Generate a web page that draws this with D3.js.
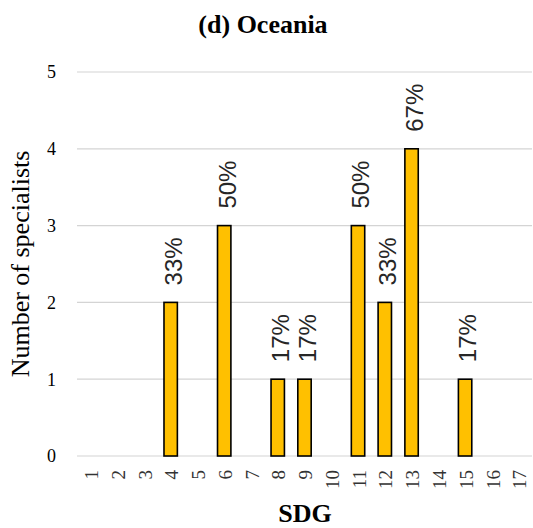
<!DOCTYPE html>
<html>
<head>
<meta charset="utf-8">
<script src="https://cdn.jsdelivr.net/npm/d3@7"></script>
<style>
html,body{margin:0;padding:0;background:#fff;}
svg{display:block;}
</style>
</head>
<body>
<svg id="chart" width="533" height="528"></svg>
<script>
const categories = ["1","2","3","4","5","6","7","8","9","10","11","12","13","14","15","16","17"];
const counts = [0,0,0,2,0,3,0,1,1,0,3,2,4,0,1,0,0];
const percentLabels = ["","","","33%","","50%","","17%","17%","","50%","33%","67%","","17%","",""];
const yTicks = [0,1,2,3,4,5];
const titleText = "(d) Oceania";
const xTitle = "SDG";
const yTitle = "Number of specialists";

const svg = d3.select("#chart");
const serif = "'Liberation Serif','Times New Roman',serif";
const sans = "'Liberation Sans',Arial,sans-serif";

const x = d3.scaleBand().domain(categories).range([77, 532]).padding(0);
const y = d3.scaleLinear().domain([0, 5]).range([456, 72]);

// gridlines
svg.append("g").selectAll("line").data(yTicks).join("line")
  .attr("x1", 77).attr("x2", 532)
  .attr("y1", d => y(d)).attr("y2", d => y(d))
  .attr("stroke", "#d4d4d4").attr("stroke-width", 1.2);

// y tick labels
svg.append("g").selectAll("text").data(yTicks).join("text")
  .attr("x", 56).attr("y", d => y(d)).attr("dy", "0.35em")
  .attr("text-anchor", "end")
  .attr("font-family", serif).attr("font-size", 18)
  .text(d => d);

// bars
const data = categories.map((c, i) => ({c, v: counts[i], p: percentLabels[i]}));
const bw = x.bandwidth() * 0.5;
svg.append("g").selectAll("rect").data(data.filter(d => d.v > 0)).join("rect")
  .attr("x", d => x(d.c) + x.bandwidth() / 2 - bw / 2)
  .attr("y", d => y(d.v))
  .attr("width", bw)
  .attr("height", d => y(0) - y(d.v))
  .attr("fill", "#FFC000")
  .attr("stroke", "#000").attr("stroke-width", 1.6);

// percent labels
svg.append("g").selectAll("text").data(data.filter(d => d.p)).join("text")
  .attr("transform", d => `translate(${x(d.c) + x.bandwidth() / 2 + 3},${y(d.v) - 17}) rotate(-90)`)
  .attr("dy", "0.35em")
  .attr("text-anchor", "start")
  .attr("font-family", sans).attr("font-size", 24)
  .attr("fill", "#262626")
  .text(d => d.p);

// x tick labels
svg.append("g").selectAll("text").data(categories).join("text")
  .attr("transform", d => `translate(${x(d) + x.bandwidth() / 2 + 1},470) rotate(-90)`)
  .attr("dy", "0.35em")
  .attr("text-anchor", "end")
  .attr("font-family", serif).attr("font-size", 19)
  .attr("fill", "#333")
  .text(d => d);

// title
svg.append("text").attr("x", 263).attr("y", 33)
  .attr("text-anchor", "middle")
  .attr("font-family", serif).attr("font-weight", "bold").attr("font-size", 26)
  .text(titleText);

// x axis title
svg.append("text").attr("x", 305).attr("y", 522)
  .attr("text-anchor", "middle")
  .attr("font-family", serif).attr("font-weight", "bold").attr("font-size", 26)
  .text(xTitle);

// y axis title
svg.append("text").attr("transform", "translate(29,264) rotate(-90)")
  .attr("text-anchor", "middle")
  .attr("font-family", serif).attr("font-size", 26)
  .text(yTitle);
</script>
</body>
</html>
